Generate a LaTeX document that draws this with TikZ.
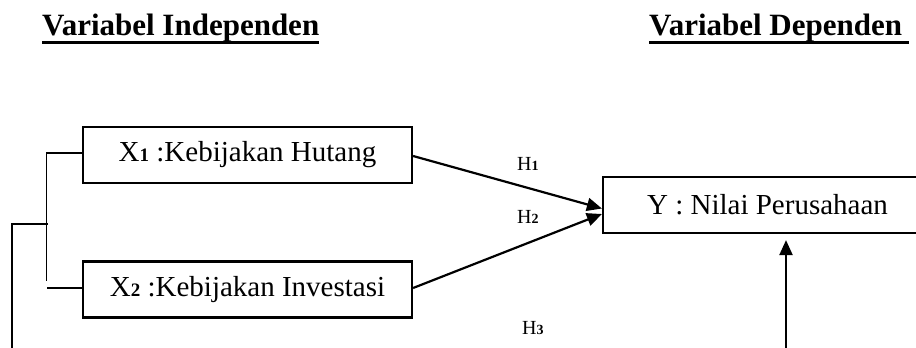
\documentclass[tikz,border=0pt]{standalone}
\usepackage{fontspec}
\setmainfont{Liberation Serif}
\usetikzlibrary{arrows.meta,calc}

\newcommand{\boxfont}{\fontsize{29}{32}\selectfont}
\newcommand{\boxidx}[1]{{\fontsize{19}{20}\selectfont\bfseries #1}}
\newcommand{\hlabel}[1]{{\fontsize{20}{22}\selectfont H}{\fontsize{14}{16}\selectfont\bfseries #1}}

\tikzset{
  varbox/.style={draw, line width=2.2pt, minimum width=329pt, minimum height=56pt,
                 inner sep=0pt, font=\boxfont},
  heading/.style={inner sep=0pt, anchor=base west, font=\fontsize{31}{34}\selectfont\bfseries},
  headline/.style={line width=3.5pt},
  bracket/.style={line width=1.1pt},
  effect/.style={line width=2.2pt, -{Triangle[length=15pt,width=13pt]}},
  hyp/.style={inner sep=0pt, anchor=base west}
}

\begin{document}
\begin{tikzpicture}[x=1pt, y=-1pt]
  \useasboundingbox (0,0) rectangle (916,348);

  % headings, underlined by a heavy rule below the baseline
  \node[heading] (hind) at (42,35) {Variabel Independen};
  \node[heading] (hdep) at (649,35) {Variabel Dependen};
  \draw[headline] ($(hind.base west)+(0,7.5)$) -- ($(hind.base east)+(0,7.5)$);
  \draw[headline] ($(hdep.base west)+(0,7.5)$) -- ($(hdep.base east)+(7,7.5)$);

  % variables
  \node[varbox] (x1) at (247.5,155) {X\boxidx{1} :Kebijakan Hutang};
  \node[varbox] (x2) at (247.5,289.5) {X\boxidx{2} :Kebijakan Investasi};
  \node[varbox] (y)  at (767.5,205) {Y : Nilai Perusahaan};

  % grouping bracket on the left
  \coordinate (bt) at ($(x1.west)+(-35,-2)$);
  \coordinate (bb) at ($(x2.west)+(-35,-9)$);
  \coordinate (bm) at (48,224);
  \coordinate (bl) at (12,224);
  \coordinate (bend) at (12,350);
  \draw[bracket] (x1.west |- bt) -- (bt) -- (bb);
  \draw[bracket] ($(x2.west)+(0,-1.5)$) -- ($(x2.west)+(-35,-1.5)$);
  \draw[bracket] (bm) -- (bl) -- (bend);

  % hypothesised effects
  \coordinate (t1) at ($(y.west)+(0,3.5)$);
  \coordinate (t2) at ($(y.west)+(0,9)$);
  \draw[effect] ($(x1.east)+(0,1)$) -- (t1);
  \draw[effect] ($(x2.east)+(0,-1.5)$) -- (t2);
  \coordinate (ybot) at (786,350);
  \draw[effect] (ybot) -- ($(y.south -| ybot)+(0,6)$);

  \node[hyp] (h1) at (517,170) {\hlabel{1}};
  \node[hyp] (h2) at (517,223) {\hlabel{2}};
  \node[hyp] (h3) at (522,334) {\hlabel{3}};
\end{tikzpicture}
\end{document}
